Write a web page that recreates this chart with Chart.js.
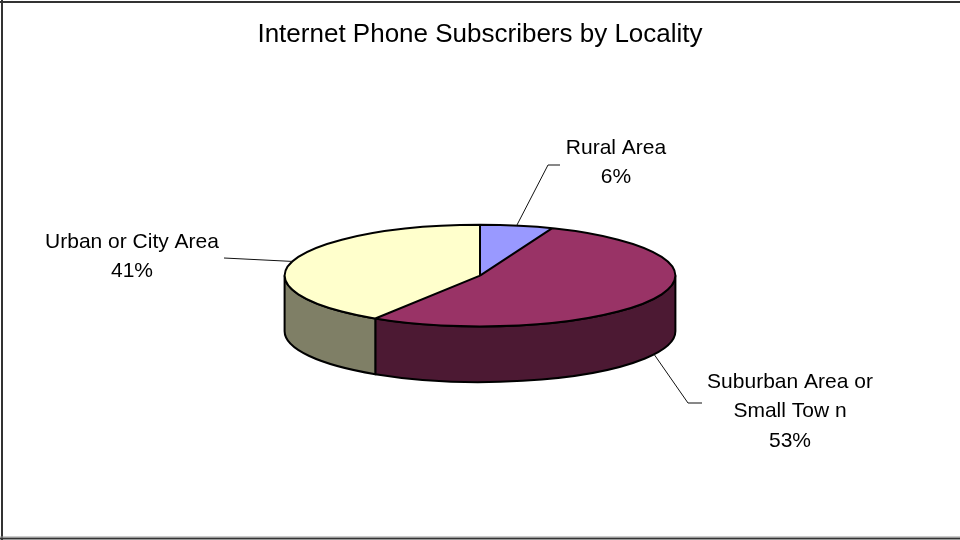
<!DOCTYPE html>
<html>
<head>
<meta charset="utf-8">
<script src="https://cdn.jsdelivr.net/npm/chart.js@4/dist/chart.umd.min.js"></script>
<style>
  html, body { margin: 0; padding: 0; background: #fff; }
  #wrap { position: relative; width: 960px; height: 540px; }
</style>
</head>
<body>
<div id="wrap"><canvas id="chart" width="960" height="540"></canvas></div>
<script>
// subscribers by locality (percent of total)
var localities = [['Rural Area'], ['Suburban Area or', 'Small Tow n'], ['Urban or City Area']];
var shares = [6, 53, 41];
var topColors = ['#9999FF', '#993366', '#FFFFCC'];
var sideColors = ['#4C4C7F', '#4C1933', '#7F7F66'];

var TILT = 0.26;    // vertical squash of the pie face
var DEPTH = 0.285;  // slab thickness, as a fraction of the radius
var FONT = "'Liberation Sans', Arial, sans-serif";

function norm(a) {
    var t = Math.PI * 2;
    return ((a % t) + t) % t;
}

var pie3d = {
    id: 'pie3d',
    geom: function(chart) {
        var arcs = chart.getDatasetMeta(0).data;
        var rx = arcs[0].outerRadius;
        return { arcs: arcs, cx: arcs[0].x, cy: arcs[0].y, rx: rx, ry: rx * TILT, d: rx * DEPTH };
    },
    beforeDatasetsDraw: function(chart) {
        var ctx = chart.ctx;
        var g = this.geom(chart);
        // front walls, only the near half (0..PI) is visible
        g.arcs.forEach(function(arc, i) {
            var s = norm(arc.startAngle);
            var e = s + (arc.endAngle - arc.startAngle);
            [-2 * Math.PI, 0, 2 * Math.PI].forEach(function(k) {
                var a = Math.max(s + k, 0), b = Math.min(e + k, Math.PI);
                if (b <= a) return;
                ctx.beginPath();
                ctx.ellipse(g.cx, g.cy, g.rx, g.ry, 0, a, b);
                ctx.lineTo(g.cx + g.rx * Math.cos(b), g.cy + g.ry * Math.sin(b) + g.d);
                ctx.ellipse(g.cx, g.cy + g.d, g.rx, g.ry, 0, b, a, true);
                ctx.closePath();
                ctx.fillStyle = sideColors[i];
                ctx.fill();
                ctx.lineWidth = 2;
                ctx.strokeStyle = '#000';
                ctx.stroke();
            });
        });
        // squash the library's circle into the top face
        ctx.save();
        ctx.translate(g.cx, g.cy);
        ctx.scale(1, TILT);
        ctx.translate(-g.cx, -g.cy);
    },
    afterDatasetsDraw: function(chart) {
        var ctx = chart.ctx;
        ctx.restore();
        var g = this.geom(chart);
        ctx.save();
        ctx.lineWidth = 2;
        ctx.strokeStyle = '#000';
        ctx.beginPath();
        ctx.ellipse(g.cx, g.cy, g.rx, g.ry, 0, 0, Math.PI * 2);
        g.arcs.forEach(function(arc) {
            ctx.moveTo(g.cx, g.cy);
            ctx.lineTo(g.cx + g.rx * Math.cos(arc.startAngle), g.cy + g.ry * Math.sin(arc.startAngle));
        });
        ctx.stroke();
        ctx.restore();
    },
    afterDraw: function(chart, args, opts) {
        var ctx = chart.ctx;
        var g = this.geom(chart);
        var data = chart.data.datasets[0].data;
        var total = data.reduce(function(a, b) { return a + b; }, 0);
        ctx.save();

        // frame
        ctx.strokeStyle = '#333';
        ctx.lineWidth = 2;
        ctx.beginPath();
        ctx.moveTo(0, 2); ctx.lineTo(960, 2);
        ctx.moveTo(2, 0); ctx.lineTo(2, 540);
        ctx.moveTo(0, 538.5); ctx.lineTo(960, 538.5);
        ctx.stroke();
        ctx.strokeStyle = '#999';
        ctx.lineWidth = 1;
        ctx.beginPath();
        ctx.moveTo(0, 537); ctx.lineTo(960, 537);
        ctx.stroke();

        // callouts
        g.arcs.forEach(function(arc, i) {
            var c = opts.callouts[i];
            var mid = (arc.startAngle + arc.endAngle) / 2;
            var px = g.cx + g.rx * Math.cos(mid);
            var py = g.cy + g.ry * Math.sin(mid) + (Math.sin(mid) > 0 ? g.d : 0);
            ctx.strokeStyle = '#111';
            ctx.lineWidth = 1;
            ctx.beginPath();
            ctx.moveTo(px, py);
            if (c.elbow) ctx.lineTo(c.elbow[0], c.elbow[1]);
            ctx.lineTo(c.end[0], c.end[1]);
            ctx.stroke();

            var lines = chart.data.labels[i].concat([Math.round(data[i] / total * 100) + '%']);
            ctx.fillStyle = '#000';
            ctx.font = '21px ' + FONT;
            ctx.textAlign = 'center';
            ctx.textBaseline = 'middle';
            lines.forEach(function(t, j) {
                ctx.fillText(t, c.x, c.y + j * 29.5);
            });
        });
        ctx.restore();
    }
};

new Chart(document.getElementById('chart'), {
    type: 'pie',
    data: {
        labels: localities,
        datasets: [{
            data: shares,
            backgroundColor: topColors,
            borderWidth: 0
        }]
    },
    options: {
        responsive: false,
        animation: false,
        devicePixelRatio: 1,
        layout: { padding: { top: 0, bottom: 69, left: 0, right: 0 } },
        plugins: {
            legend: { display: false },
            tooltip: { enabled: false },
            title: {
                display: true,
                text: 'Internet Phone Subscribers by Locality',
                color: '#000',
                font: { family: FONT, size: 26, weight: 'normal' },
                padding: { top: 19, bottom: 30 }
            },
            pie3d: {
                callouts: [
                    { x: 616, y: 148, elbow: [548, 165], end: [560, 165] },
                    { x: 790, y: 382, elbow: [688, 403], end: [702, 403] },
                    { x: 132, y: 242, elbow: null, end: [224, 258] }
                ]
            }
        }
    },
    plugins: [pie3d]
});
</script>
</body>
</html>
